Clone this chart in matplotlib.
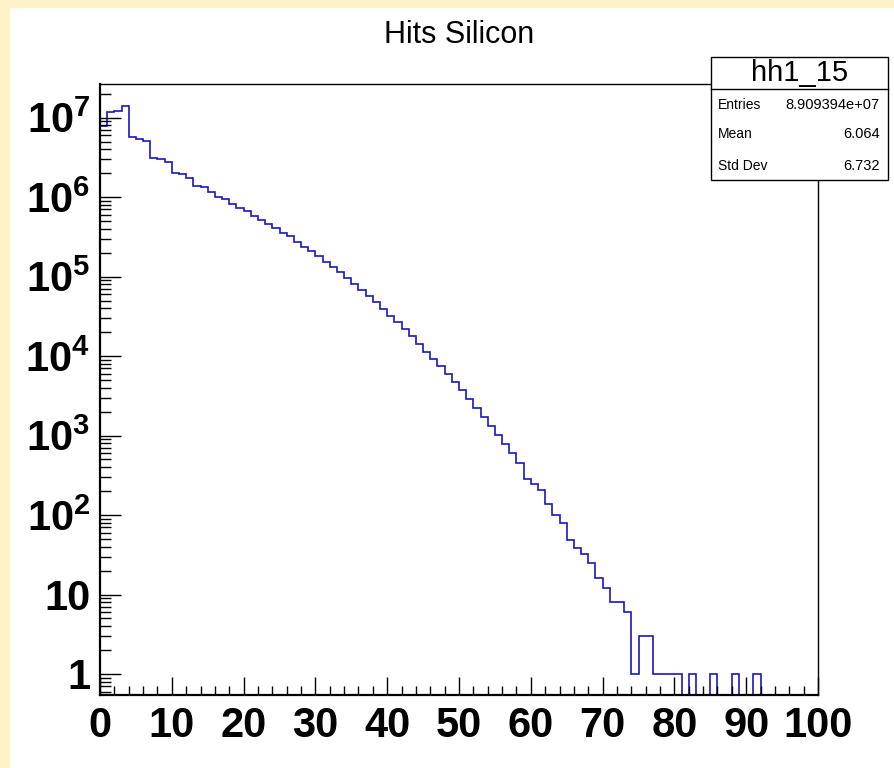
import numpy as np
import matplotlib
matplotlib.use("Agg")
import matplotlib.pyplot as plt
from matplotlib.patches import Rectangle
from matplotlib.lines import Line2D
from matplotlib.ticker import FixedLocator, FuncFormatter, MultipleLocator, LogLocator, NullFormatter

plt.rcParams['font.family'] = ['Liberation Sans', 'DejaVu Sans']
plt.rcParams['mathtext.fontset'] = 'custom'
plt.rcParams['mathtext.rm'] = 'Liberation Sans:bold'
plt.rcParams['mathtext.bf'] = 'Liberation Sans:bold'
plt.rcParams['mathtext.it'] = 'Liberation Sans:bold'

# ---- data (bin contents of hh1_15, 100 bins from 0 to 100) ----
bin_edges = np.arange(0, 101, 1)
counts = [
    7.93e6, 1.19e7, 1.21e7, 1.39e7, 5.77e6, 5.35e6, 5.14e6, 3.14e6, 3.03e6, 2.75e6,
    2.02e6, 1.94e6, 1.76e6, 1.38e6, 1.33e6, 1.17e6, 9.97e5, 9.41e5, 8.28e5, 7.25e5,
    6.65e5, 5.85e5, 5.16e5, 4.64e5, 4.13e5, 3.55e5, 3.22e5, 2.73e5, 2.38e5, 2.09e5,
    1.82e5, 1.545e5, 1.336e5, 1.136e5, 9.63e4, 8.17e4, 6.80e4, 5.67e4, 4.76e4, 3.92e4,
    3.23e4, 2.67e4, 2.18e4, 1.78e4, 1.42e4, 1.14e4, 9.22e3, 7.46e3, 5.92e3, 4.69e3,
    3.70e3, 2.85e3, 2.25e3, 1.73e3, 1.32e3, 1.01e3, 780, 606, 457, 288,
    245, 209, 136, 101, 80, 49, 39, 32, 25, 16,
    12, 8, 8, 6, 1, 3, 3, 1, 1, 1,
    1, 0, 1, 0, 0, 1, 0, 0, 1, 0,
    0, 1, 0, 0, 0, 0, 0, 0, 0, 0,
]
x_tick_labels = ['0', '10', '20', '30', '40', '50', '60', '70', '80', '90', '100']
y_decades = [1, 10, 1e2, 1e3, 1e4, 1e5, 1e6, 1e7]
title = "Hits Silicon"
stat_name = "hh1_15"
stat_rows = [("Entries", "8.909394e+07"), ("Mean", "6.064"), ("Std Dev", "6.732")]

W, H = 894, 768
fig = plt.figure(figsize=(W / 100, H / 100), dpi=100)
fig.patch.set_facecolor('white')

# yellow canvas border (left and top)
border = '#fff2c6'
fig.patches.append(Rectangle((0, 0), 9 / W, 1, transform=fig.transFigure, color=border, zorder=0))
fig.patches.append(Rectangle((0, 1 - 7 / H), 1, 7 / H, transform=fig.transFigure, color=border, zorder=0))

ax = fig.add_axes([100 / W, 1 - 695 / H, (818 - 100) / W, (695 - 84) / H])
ax.set_yscale('log')

vals = np.asarray(counts, dtype=float)
# empty bins are drawn at the bottom of the frame, as ROOT does
vals_plot = np.where(vals > 0, vals, 1e-3)
ax.stairs(vals_plot, bin_edges, color='#1818c0', lw=1.2, baseline=None)

ax.set_xlim(0, 100)
ax.set_ylim(0.544, 2.65e7)

# x ticks
ax.xaxis.set_major_locator(FixedLocator(np.arange(0, 101, 10)))
ax.xaxis.set_major_formatter(FuncFormatter(lambda v, p: x_tick_labels[int(round(v / 10))] if 0 <= round(v / 10) < len(x_tick_labels) else ''))
ax.xaxis.set_minor_locator(MultipleLocator(2))
ax.tick_params(axis='x', which='major', direction='in', length=13, width=1.0, pad=8,
               labelsize=30, top=False, bottom=True)
ax.tick_params(axis='x', which='minor', direction='in', length=6.5, width=1.0, top=False, bottom=True)

# y ticks
def ylab(v, p):
    e = int(round(np.log10(v)))
    if e == 0:
        return '1'
    if e == 1:
        return '10'
    return r'$\mathbf{10^{%d}}$' % e

ax.yaxis.set_major_locator(FixedLocator(y_decades))
ax.yaxis.set_major_formatter(FuncFormatter(ylab))
ax.yaxis.set_minor_locator(LogLocator(base=10, subs=np.arange(2, 10), numticks=20))
ax.yaxis.set_minor_formatter(NullFormatter())
ax.tick_params(axis='y', which='major', direction='in', length=15, width=1.0, pad=7,
               labelsize=30, left=True, right=False)
ax.tick_params(axis='y', which='minor', direction='in', length=8, width=1.0, left=True, right=False)

for lab in ax.get_xticklabels() + ax.get_yticklabels():
    lab.set_fontweight('bold')

for s in ['left', 'bottom']:
    ax.spines[s].set_linewidth(1.6)
for s in ['top', 'right']:
    ax.spines[s].set_linewidth(1.0)

# title
fig.text(459 / W, 1 - 35 / H, title, ha='center', va='center', fontsize=22)

# stat box
bx0, bx1 = 711 / W, 888 / W
by_top, by_sep, by_bot = 1 - 57 / H, 1 - 89 / H, 1 - 180 / H
fig.add_artist(Rectangle((bx0, by_bot), bx1 - bx0, by_top - by_bot, transform=fig.transFigure,
                         facecolor='white', edgecolor='black', lw=1.0, zorder=10))
fig.add_artist(Line2D([bx0, bx1], [by_sep, by_sep], transform=fig.transFigure, color='black', lw=1.0, zorder=11))
fig.text((bx0 + bx1) / 2, (by_top + by_sep) / 2, stat_name, ha='center', va='center', fontsize=21, zorder=12)
row_y = [105, 134, 166]
for (name, val), yy in zip(stat_rows, row_y):
    fig.text(718 / W, 1 - yy / H, name, ha='left', va='center', fontsize=10, zorder=12)
    fig.text(880 / W, 1 - yy / H, val, ha='right', va='center', fontsize=10.5, zorder=12)

fig.savefig('out.png', dpi=100)
